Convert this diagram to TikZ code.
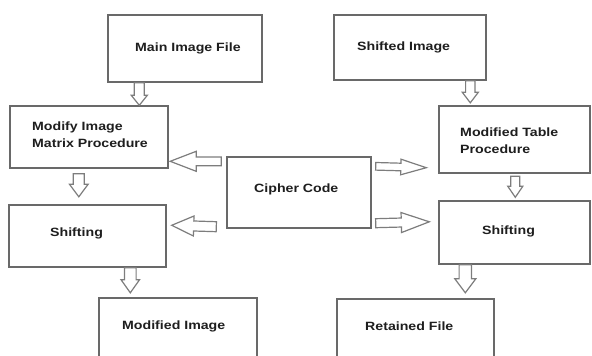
\documentclass[tikz,border=0pt]{standalone}
\usepackage{fontspec}
\setmainfont{Liberation Sans}[FakeStretch=1.18]
\usetikzlibrary{calc}

\definecolor{boxgray}{RGB}{105,105,105}
\definecolor{arrowgray}{RGB}{125,125,125}
\definecolor{inkgray}{RGB}{30,30,30}

\tikzset{
  box/.style={draw=boxgray, line width=1.4pt, fill=white, inner sep=0pt},
  lbl/.style={anchor=base west, inner sep=0pt, text=inkgray,
              font=\fontsize{12}{16.5}\selectfont\bfseries, align=left},
  arrowbody/.style={draw=arrowgray, line width=1.2pt, fill=white, line join=miter},
}

% hollow block arrow: tail, tip, shaft half-width, head half-width, head length
\newcommand\blockarrow[5]{%
  \coordinate (ba-h) at ($(#2)!#5pt!(#1)$);
  \draw[arrowbody]
    ($(#1)!#3pt!90:(#2)$) -- ($(ba-h)!#3pt!-90:(#1)$) --
    ($(ba-h)!#4pt!-90:(#1)$) -- (#2) --
    ($(ba-h)!#4pt!90:(#1)$) -- ($(ba-h)!#3pt!90:(#1)$) --
    ($(#1)!#3pt!-90:(#2)$) -- cycle;}

\begin{document}
\begin{tikzpicture}[x=1pt,y=-1pt]
\useasboundingbox (0,0) rectangle (592,356);
\clip (0,0) rectangle (592,356);

% boxes
\node[box, minimum width=154, minimum height=67] (main)     at (185,48.5)  {};
\node[box, minimum width=152, minimum height=65] (shifted)  at (410,47.5)  {};
\node[box, minimum width=158, minimum height=62] (modify)   at (89,137)    {};
\node[box, minimum width=151, minimum height=67] (modtable) at (514.5,139.5) {};
\node[box, minimum width=144, minimum height=71] (cipher)   at (299,192.5) {};
\node[box, minimum width=157, minimum height=62] (shiftL)   at (87.5,236)  {};
\node[box, minimum width=151, minimum height=63] (shiftR)   at (514.5,232.5) {};
\node[box, minimum width=158, minimum height=67] (modimg)   at (178,331.5) {};
\node[box, minimum width=157, minimum height=67] (retained) at (415.5,332.5) {};

% labels (base of a two-line label is its last line)
\node[lbl] at (135,51)   {Main Image File};
\node[lbl] at (357,50.5) {Shifted Image};
\node[lbl] at (32,147)   {Modify Image\\Matrix Procedure};
\node[lbl] at (460,153)  {Modified Table\\Procedure};
\node[lbl] at (254,192)  {Cipher Code};
\node[lbl] at (50,236.5) {Shifting};
\node[lbl] at (482,234)  {Shifting};
\node[lbl] at (122,329)  {Modified Image};
\node[lbl] at (365,330)  {Retained File};

% connector end points
\coordinate (t1) at ($(main.south west)+(32,0)$);
\coordinate (e1) at ($(modify.north west)+(130,0)$);
\coordinate (t2) at ($(modify.south west)+(69.5,5)$);
\coordinate (e2) at ($(shiftL.north west)+(70.5,-7.5)$);
\coordinate (t3) at ($(shiftL.south west)+(122,0)$);
\coordinate (e3) at ($(modimg.north west)+(32,-4.5)$);
\coordinate (t4) at ($(shifted.south west)+(137,0)$);
\coordinate (e4) at ($(modtable.north west)+(32,-2.5)$);
\coordinate (t5) at ($(modtable.south west)+(77,2.5)$);
\coordinate (e5) at ($(shiftR.north west)+(77,-3)$);
\coordinate (t6) at ($(shiftR.south west)+(27,0)$);
\coordinate (e6) at ($(retained.north west)+(129,-5.5)$);
\coordinate (t7) at ($(cipher.north west)+(-5,5)$);
\coordinate (e7) at ($(modify.north east)+(1.5,56)$);
\coordinate (t8) at ($(cipher.south west)+(-10,-2)$);
\coordinate (e8) at ($(shiftL.north east)+(5,21)$);
\coordinate (t9) at ($(cipher.north east)+(4,10)$);
\coordinate (e9) at ($(modtable.south west)+(-12,-6)$);
\coordinate (t10) at ($(cipher.south east)+(4,-5.5)$);
\coordinate (e10) at ($(shiftR.north west)+(-9,21.5)$);

% block arrows
\blockarrow{t1}{e1}{5}{8}{10}
\blockarrow{t2}{e2}{5.5}{9.3}{12.5}
\blockarrow{t3}{e3}{5.8}{9.2}{13}
\blockarrow{t4}{e4}{4.7}{8}{10.5}
\blockarrow{t5}{e5}{4.5}{7.5}{11}
\blockarrow{t6}{e6}{6.2}{10.5}{14}
\blockarrow{t7}{e7}{4.4}{10}{26}
\blockarrow{t8}{e8}{5}{10}{22}
\blockarrow{t9}{e9}{3.8}{7.8}{25.5}
\blockarrow{t10}{e10}{4.5}{10}{28}
\end{tikzpicture}
\end{document}
